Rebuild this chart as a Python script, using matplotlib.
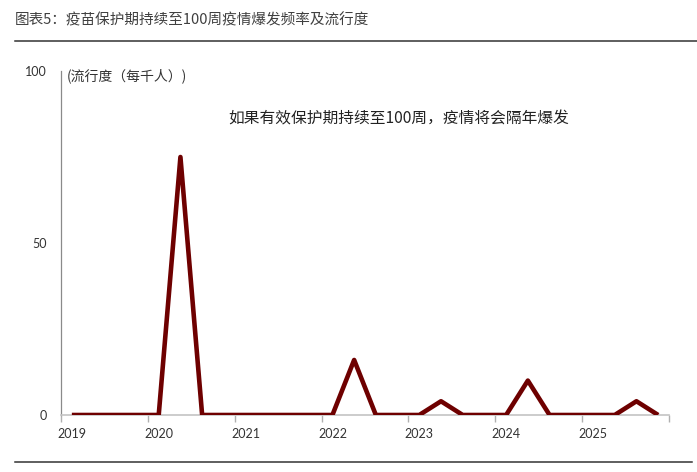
import numpy as np
import matplotlib.pyplot as plt
from matplotlib.lines import Line2D

# ---------------------------------------------------------
# Datos (trimestral 2019Q1 - 2025Q4)
# ---------------------------------------------------------
years = ["2019", "2020", "2021", "2022", "2023", "2024", "2025"]
prevalence = [0, 0, 0, 0, 0, 75, 0, 0,
              0, 0, 0, 0, 0, 16, 0, 0,
              0, 4, 0, 0, 0, 10, 0, 0,
              0, 0, 4, 0]

title = "图表5：疫苗保护期持续至100周疫情爆发频率及流行度"
ylabel = "(流行度（每千人）)"
note = "如果有效保护期持续至100周，疫情将会隔年爆发"

cjk = ["Noto Sans CJK SC", "DejaVu Sans"]
num_font = ["Lato", "DejaVu Sans"]

fig = plt.figure(figsize=(6.97, 4.72), dpi=100)
ax = fig.add_axes([61 / 697, 1 - 415 / 472, 608 / 697, 344 / 472])

x = np.arange(len(prevalence))
ax.plot(x, prevalence, color="#6e0000", lw=3.3, solid_joinstyle="round",
        solid_capstyle="butt", zorder=3)

ax.set_xlim(-0.5, len(prevalence) - 0.5)
ax.set_ylim(0, 100)

# eje x: etiquetas al inicio de cada año, marcas entre años
ax.set_xticks(np.arange(0, len(prevalence), 4))
ax.set_xticklabels(years, family=num_font, fontsize=9, color="#333333")
ax.set_xticks(np.arange(-0.5, len(prevalence), 4), minor=True)
ax.tick_params(axis="x", which="major", length=0, pad=9)
ax.tick_params(axis="x", which="minor", length=5, color="#b0b0b0", width=1)

ax.set_yticks([0, 50, 100])
ax.set_yticklabels(["0", "50", "100"], family=num_font, fontsize=9, color="#333333")
ax.tick_params(axis="y", length=0, pad=10)

for s in ["top", "right"]:
    ax.spines[s].set_visible(False)
ax.spines["bottom"].set_color("#c4c4c4")
ax.spines["bottom"].set_linewidth(1.2)
ax.spines["left"].set_color("#8a8a8a")
ax.spines["left"].set_linewidth(0.9)

# textos
fig.text(15 / 697, 1 - 20 / 472, title, family=cjk, fontsize=10.5,
         color="#404040", va="center", ha="left")
fig.text(67 / 697, 1 - 76 / 472, ylabel, family=cjk, fontsize=10,
         color="#333333", va="center", ha="left")
fig.text(228 / 697, 1 - 119 / 472, note, family=cjk, fontsize=11.3,
         color="#222222", va="center", ha="left")

# líneas de marco
fig.add_artist(Line2D([15 / 697, 1], [1 - 41 / 472] * 2, color="#333333", lw=1.1))
fig.add_artist(Line2D([15 / 697, 692 / 697], [1 - 462 / 472] * 2, color="#333333", lw=1.1))

fig.savefig("out.png", dpi=100)
